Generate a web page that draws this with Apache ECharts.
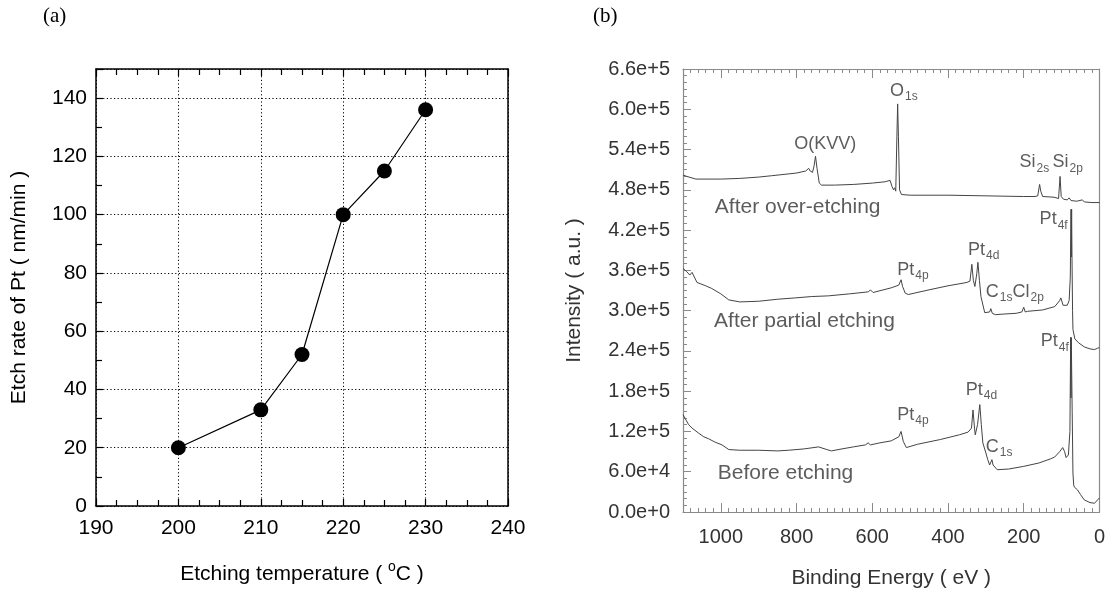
<!DOCTYPE html>
<html>
<head>
<meta charset="utf-8">
<script src="https://cdn.jsdelivr.net/npm/echarts@6/dist/echarts.min.js"></script>
<style>
html,body{margin:0;padding:0;background:#fff;}
#c{width:1108px;height:594px;}
</style>
</head>
<body>
<div id="c"></div>
<script>
// ---------- Panel (a): etch rate vs temperature ----------
var tempC = [200, 210, 215, 220, 225, 230];
var etchRate = [20, 33, 52, 100, 115, 136];

// ---------- Panel (b): XPS survey spectra [binding energy eV, intensity] ----------
var overEtching = [
  [1100,502000],[1090,500000],[1066,496000],[1000,496000],[950,497000],[900,499000],[866,501000],
  [800,505000],[776,508000],[768,512000],[764,508000],[758,506000],[754,515000],[750,530000],
  [746,512000],[740,490000],[734,487000],[700,487000],[650,488000],[600,490000],[566,492000],
  [553,494000],[548,485000],[544,480000],[541,483000],[538,478000],[535,560000],[533,608000],
  [531,560000],[528,480000],[523,473000],[500,472000],[400,472000],[300,471000],[200,470000],
  [170,470000],[163,471000],[158,488000],[155,478000],[150,470000],[120,469000],[108,467000],
  [104,500000],[101,470000],[95,466000],[85,465000],[80,468000],[75,464000],[60,463000],
  [45,465000],[40,462000],[20,461000],[0,461000]
];
var partialEtching = [
  [1100,363000],[1090,358000],[1082,353000],[1076,357000],[1070,350000],[1063,342000],[1040,337000],
  [1024,333000],[1000,325000],[979,316000],[950,313000],[900,314000],[850,317000],[803,319000],
  [760,321000],[716,322000],[660,325000],[610,328000],[605,331000],[598,327000],[550,334000],
  [530,338000],[524,346000],[520,336000],[513,326000],[505,324000],[450,331000],[400,337000],
  [350,342000],[342,344000],[337,369000],[333,345000],[329,336000],[324,355000],[321,372000],
  [317,345000],[313,321000],[303,297000],[290,298000],[287,303000],[283,296000],[275,294000],
  [250,295000],[220,296000],[205,298000],[200,305000],[196,298000],[190,299000],[150,301000],
  [118,306000],[105,315000],[102,319000],[96,308000],[92,306000],[85,308000],[80,315000],
  [77,350000],[75,451000],[74.3,380000],[73.5,451000],[72.5,380000],[71,300000],[70,272000],
  [65,258000],[55,252000],[40,246000],[25,243000],[13,242000],[5,244000],[0,245000]
];
var beforeEtching = [
  [1100,145000],[1095,140000],[1085,130000],[1076,125000],[1060,118000],[1045,112000],[1032,109000],
  [1015,104000],[997,100000],[979,93000],[950,92000],[900,92000],[850,91000],[821,92000],
  [780,94000],[742,97000],[720,93000],[708,91000],[680,94000],[650,97000],[618,100000],
  [611,103000],[605,100000],[580,103000],[550,106000],[530,112000],[524,120000],[518,105000],
  [510,96000],[480,101000],[420,108000],[370,115000],[347,119000],[338,125000],[334,152000],
  [330,125000],[328,115000],[322,130000],[316,160000],[312,130000],[308,103000],[300,88000],
  [295,78000],[290,70000],[286,72000],[284,78000],[281,70000],[270,63000],[240,64000],
  [200,68000],[160,73000],[130,79000],[118,82000],[105,90000],[97,96000],[92,90000],[88,81000],
  [82,85000],[78,120000],[76,260000],[75.2,170000],[74.4,260000],[72,150000],[70,58000],
  [68,40000],[66,37000],[58,33000],[50,26000],[40,18000],[25,14000],[13,13000],[5,18000],[0,21000]
];

// Annotation texts (rich-text tags) and their anchor positions in data space
var annoText = [
  '{m|O(KVV)}', '{m|O}{s|1s}', '{m|Si}{s|2s}', '{m|Si}{s|2p}',
  '{m|Pt}{s|4f}', '{m|Pt}{s|4d}', '{m|Pt}{s|4p}', '{m|C}{s|1s}{m|Cl}{s|2p}',
  '{m|Pt}{s|4f}', '{m|Pt}{s|4d}', '{m|Pt}{s|4p}', '{m|C}{s|1s}',
  '{c|After over-etching}', '{c|After partial etching}', '{c|Before etching}'
];
var annoE = [806, 553, 211, 124, 158, 347, 534, 300, 155, 353, 534, 300, 1016, 1018, 1008];
var annoI = [548000, 627000, 521000, 521000, 436000, 391000, 361000, 328000, 254000, 182000, 145000, 97000, 454000, 284000, 58000];

// x / y tick settings
var aXTicks = {min: 190, max: 240, interval: 10};
var aYTicks = {min: 0, max: 150, interval: 20};
var bXTicks = {min: 0, max: 1100, interval: 200};
var bYTicks = {min: 0, max: 660000, interval: 60000};

var FONT = '"Liberation Sans", Arial, Helvetica, sans-serif';
var chart = echarts.init(document.getElementById('c'), null, {renderer: 'canvas'});

var dotted = {show: true, lineStyle: {color: '#000', width: 1, type: [1.2, 2.4]}};
var aAxisLine = {show: true, onZero: false, lineStyle: {color: '#000', width: 1.5}};
var bAxisLine = {show: true, onZero: false, lineStyle: {color: '#8a8a8a', width: 1.2}};

var annoData = annoE.map(function (e, i) { return [e, annoI[i]]; });

var option = {
  animation: false,
  backgroundColor: '#fff',
  textStyle: {fontFamily: FONT},
  graphic: [
    {type: 'text', left: 43, top: 6, style: {text: '(a)', font: '21px "Liberation Serif", "Times New Roman", serif', fill: '#000'}},
    {type: 'text', left: 593, top: 6, style: {text: '(b)', font: '21px "Liberation Serif", "Times New Roman", serif', fill: '#000'}}
  ],
  grid: [
    {left: 96, top: 69, width: 412, height: 437},
    {left: 683, top: 69, width: 420, height: 443}
  ],
  xAxis: [
    {
      type: 'value', gridIndex: 0, position: 'bottom',
      min: aXTicks.min, max: aXTicks.max, interval: aXTicks.interval,
      axisLine: aAxisLine,
      axisTick: {show: true, inside: true, length: 7, lineStyle: {color: '#000', width: 1.2}},
      minorTick: {show: true, splitNumber: 4, length: 6, lineStyle: {color: '#000', width: 1.2}},
      axisLabel: {fontSize: 21, color: '#000', margin: 12, fontFamily: FONT},
      splitLine: dotted,
      name: '{t|Etching temperature ( }{sup|o}{t|C )}',
      nameLocation: 'middle', nameGap: 54,
      nameTextStyle: {rich: {
        t: {fontSize: 21, color: '#000', fontFamily: FONT},
        sup: {fontSize: 14, color: '#000', fontFamily: FONT, padding: [0, 0, 14, 0]}
      }}
    },
    {
      type: 'value', gridIndex: 0, position: 'top',
      min: aXTicks.min, max: aXTicks.max, interval: aXTicks.interval,
      axisLine: aAxisLine,
      axisTick: {show: true, inside: true, length: 7, lineStyle: {color: '#000', width: 1.2}},
      minorTick: {show: true, splitNumber: 4, length: 6, lineStyle: {color: '#000', width: 1.2}},
      axisLabel: {show: false}, splitLine: {show: false}
    },
    {
      type: 'value', gridIndex: 1, position: 'bottom', inverse: true,
      min: bXTicks.min, max: bXTicks.max, interval: bXTicks.interval,
      axisLine: bAxisLine,
      axisTick: {show: true, inside: true, length: 9, lineStyle: {color: '#8a8a8a', width: 1}},
      minorTick: {show: true, splitNumber: 10, length: 4, lineStyle: {color: '#8a8a8a', width: 1}},
      axisLabel: {fontSize: 20, color: '#333', margin: 15, showMaxLabel: false, fontFamily: FONT,
        formatter: function (v) { return String(v); }},
      splitLine: {show: false},
      name: 'Binding Energy ( eV )', nameLocation: 'middle', nameGap: 56,
      nameTextStyle: {fontSize: 21, color: '#333', fontFamily: FONT}
    },
    {
      type: 'value', gridIndex: 1, position: 'top', inverse: true,
      min: bXTicks.min, max: bXTicks.max, interval: bXTicks.interval,
      axisLine: bAxisLine,
      axisTick: {show: true, inside: true, length: 9, lineStyle: {color: '#8a8a8a', width: 1}},
      minorTick: {show: true, splitNumber: 10, length: 4, lineStyle: {color: '#8a8a8a', width: 1}},
      axisLabel: {show: false}, splitLine: {show: false}
    }
  ],
  yAxis: [
    {
      type: 'value', gridIndex: 0, position: 'left',
      min: aYTicks.min, max: aYTicks.max, interval: aYTicks.interval,
      axisLine: aAxisLine,
      axisTick: {show: true, inside: true, length: 7, lineStyle: {color: '#000', width: 1.2}},
      minorTick: {show: true, splitNumber: 2, length: 6, lineStyle: {color: '#000', width: 1.2}},
      axisLabel: {fontSize: 21, color: '#000', margin: 9, showMaxLabel: false, fontFamily: FONT},
      splitLine: dotted,
      name: 'Etch rate of Pt ( nm/min )', nameLocation: 'middle', nameGap: 66,
      nameTextStyle: {fontSize: 21, color: '#000', fontFamily: FONT}
    },
    {
      type: 'value', gridIndex: 0, position: 'right',
      min: aYTicks.min, max: aYTicks.max, interval: aYTicks.interval,
      axisLine: aAxisLine, axisTick: {show: false}, axisLabel: {show: false}, splitLine: {show: false}
    },
    {
      type: 'value', gridIndex: 1, position: 'left',
      min: bYTicks.min, max: bYTicks.max, interval: bYTicks.interval,
      axisLine: bAxisLine,
      axisTick: {show: true, inside: true, length: 8, lineStyle: {color: '#8a8a8a', width: 1}},
      minorTick: {show: true, splitNumber: 6, length: 4, lineStyle: {color: '#8a8a8a', width: 1}},
      axisLabel: {fontSize: 20, color: '#333', margin: 13, fontFamily: FONT,
        formatter: function (v) { return v.toExponential(1); }},
      splitLine: {show: false},
      name: 'Intensity ( a.u. )', nameLocation: 'middle', nameGap: 98,
      nameTextStyle: {fontSize: 21, color: '#333', fontFamily: FONT}
    },
    {
      type: 'value', gridIndex: 1, position: 'right',
      min: bYTicks.min, max: bYTicks.max, interval: bYTicks.interval,
      axisLine: bAxisLine, axisTick: {show: false}, axisLabel: {show: false}, splitLine: {show: false}
    }
  ],
  series: [
    {
      type: 'line', xAxisIndex: 0, yAxisIndex: 0,
      data: tempC.map(function (t, i) { return [t, etchRate[i]]; }),
      symbol: 'circle', symbolSize: 15,
      lineStyle: {color: '#000', width: 1.2},
      itemStyle: {color: '#000'}
    },
    {type: 'line', xAxisIndex: 2, yAxisIndex: 2, data: overEtching, symbol: 'none',
      lineStyle: {color: '#444', width: 1}},
    {type: 'line', xAxisIndex: 2, yAxisIndex: 2, data: partialEtching, symbol: 'none',
      lineStyle: {color: '#444', width: 1}},
    {type: 'line', xAxisIndex: 2, yAxisIndex: 2, data: beforeEtching, symbol: 'none',
      lineStyle: {color: '#444', width: 1}},
    {
      type: 'scatter', xAxisIndex: 2, yAxisIndex: 2, symbolSize: 0, silent: true,
      data: annoData,
      label: {
        show: true, position: [0, 0], align: 'left', verticalAlign: 'middle',
        formatter: function (p) { return annoText[p.dataIndex]; },
        rich: {
          m: {fontSize: 18, color: '#333', fontFamily: FONT},
          s: {fontSize: 12, color: '#333', fontFamily: FONT, padding: [12, 0, 0, 1]},
          c: {fontSize: 21, color: '#333', fontFamily: FONT}
        }
      }
    }
  ]
};
chart.setOption(option);
</script>
</body>
</html>
